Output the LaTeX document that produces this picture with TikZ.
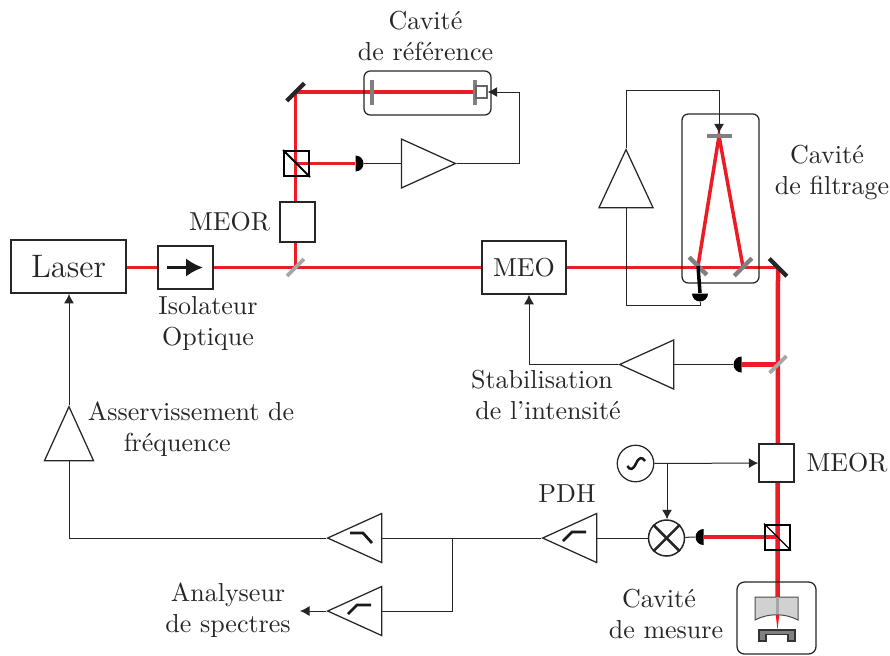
\documentclass[tikz,border=0pt]{standalone}
\usepackage{amsmath,amssymb}
\usepackage{tikz}
\usetikzlibrary{arrows.meta,positioning,shapes.geometric,backgrounds}
\definecolor{beamred}{HTML}{ED1C24}

\begin{document}
\begin{tikzpicture}[x=.4pt,y=-.4pt, every node/.style={font=\fontsize{10.4}{12.4}\selectfont,text=black!85,inner sep=0pt},
box/.style={draw=black!85,line width=.6pt,fill=white,align=center},
txt/.style={align=center},
cube/.style={draw=black,line width=.8pt,minimum size=10pt},
mirror/.style={fill=black!85,minimum width=10pt,minimum height=1.7pt},
gmirror/.style={mirror,fill=black!50},
split/.style={mirror,fill=black!35,minimum width=9.5pt,minimum height=1.5pt},
amp/.style={draw=black!85,line width=.5pt,fill=white,isosceles triangle,isosceles triangle stretches,minimum width=19.6pt,minimum height=21.6pt},
diode/.style={semicircle,fill=black,minimum size=3.2pt},
cav/.style={draw=black!85,line width=.5pt,rounded corners=2.5pt},
beam/.style={beamred,line width=1.4pt},
wire/.style={draw=black!85,line width=.4pt},
arr/.style={wire,-{Latex[length=3.8pt,width=4pt]}},
filt/.style={draw=black!90,line width=1.1pt}]
\useasboundingbox (0,0) rectangle (890,655);
% optical parts
\node[box,line width=.7pt,minimum width=46pt,minimum height=21.2pt,font=\fontsize{13}{15}\selectfont] (laser) at (68.5,266.5) {Laser};
\node[box,minimum width=22pt,minimum height=17.2pt] (iso) at (185.5,267.5) {};
\node[split,rotate=45] (splitm) at (295.5,267.5) {};
\node[box,minimum width=14pt,minimum height=16pt] (meorref) at (297.5,222) {};
\node[cube] (cuberef) at (296.5,163.5) {};
\node[mirror,rotate=45] (mirref) at (295.5,92) {};
\node[box,minimum width=33.6pt,minimum height=21.2pt] (meo) at (524,267.5) {MEO};
\node[gmirror,rotate=90] (cavin) at (372,92) {};
\node[gmirror,rotate=90] (cavout) at (475,92) {};
\node[draw=black!60,line width=.5pt,minimum width=4.4pt,minimum height=4.8pt] (piezo) at (481.5,92) {};
\node[cav,minimum width=50.8pt,minimum height=17.6pt] (cavref) at (427.5,93) {};
\node[cav,minimum width=30.8pt,minimum height=67.6pt] (cavfil) at (720.5,198.5) {};
\node[gmirror] (mirtop) at (719,136) {};
\node[gmirror,rotate=-45] (mirl) at (698,266) {};
\node[gmirror,rotate=45] (mirr) at (743,267) {};
\node[mirror,rotate=-45] (mirout) at (778,267.5) {};
\node[split,rotate=45] (splitout) at (778,364.5) {};
\node[box,minimum width=14pt,minimum height=15.2pt] (meormes) at (776.5,463) {};
\node[cube] (cubemes) at (777.5,537) {};
\node[cav,rounded corners=3pt,minimum width=31.6pt,minimum height=28.8pt] (cavmes) at (776.5,618) {};
\coordinate (spot) at (777.5,597);
% photodiodes
\node[diode,shape border rotate=270,anchor=chord center] (dioderef) at (355,163.5) {};
\node[diode,shape border rotate=180,anchor=chord center] (diodefil) at (700,293) {};
\node[diode,shape border rotate=90,anchor=chord center] (diodeint) at (742,364.5) {};
\node[diode,shape border rotate=90,anchor=chord center] (diodemes) at (704,537) {};
% amplifiers
\node[amp,anchor=apex] (ampref) at (457,163.5) {};
\node[amp,shape border rotate=90,anchor=apex,minimum width=21.6pt,minimum height=23.2pt] (ampfil) at (626,148) {};
\node[amp,shape border rotate=180,anchor=apex] (ampint) at (618,364.5) {};
\node[amp,shape border rotate=90,anchor=apex] (ampfreq) at (69,405) {};
\node[amp,shape border rotate=180,anchor=apex] (amppdh) at (541,538) {};
\node[amp,shape border rotate=180,anchor=apex] (amphi) at (326,538) {};
\node[amp,shape border rotate=180,anchor=apex] (amplo) at (326,611) {};
% electronics
\node[draw=black!85,line width=.5pt,circle,minimum size=14.6pt] (osc) at (635.5,463.5) {};
\node[draw=black!85,line width=.6pt,fill=white,circle,minimum size=14.4pt] (mix) at (666.5,538) {};
\coordinate (fbref) at (519,92);
\coordinate (fbfil) at (626,305);
\coordinate (fbtop) at (719,90);
\coordinate (fbint) at (529,364.5);
\coordinate (fbfreq) at (69,538);
\coordinate (tee) at (452,538);
\coordinate (teelo) at (452,611);
\coordinate (teeosc) at (667,463.5);
\coordinate (spec) at (300,611);
% beams
\begin{scope}[on background layer]
\draw[beam] (laser.center |- iso)--(mirout.center)--(splitout.center);
\draw[beam] (mirl.center)--(mirtop.center)--(mirr.center);
\draw[beam] (splitm.center)--(mirref.center)--(cavout.center);
\draw[beam] (cuberef.center)--(dioderef.chord center);
\draw[beam,line width=1.8pt] (mirout.center)--(spot);
\draw[beam,line width=1.7pt] (splitout.center)--(diodeint.chord center);
\draw[beam,line width=1.7pt] (cubemes.center)--(diodemes.chord center);
\end{scope}
\draw[line width=1.4pt,black] (mirl.center)--(diodefil.chord center);
\draw[cube] (cuberef.north west)--(cuberef.south east);
\draw[line width=.5pt,black] (cubemes.north west)--(cubemes.south east);
% measuring cavity
\fill[beamred] (775.5,613)--(779.5,613)--(777.5,630)--cycle;
\draw[draw=black!70,line width=.4pt,fill=black!18] (755,597)--(798,597)--(798,620) .. controls (785,613) and (768,613) .. (755,620)--cycle;
\draw[black!35,line width=1.4pt] (spot)--(777.5,614);
\draw[draw=black!80,line width=.5pt,fill=black!50] (759,641)--(759,630)--(795,630)--(795,641)--(788,641)--(788,634.5)--(766,634.5)--(766,641)--cycle;
% isolator arrow
\draw[line width=1.3pt,black!90,-{Latex[length=6.8pt,width=7.4pt]}] (167,267.5)--(203,267.5);
% wires
\draw[wire] (dioderef.apex)--(ampref.lower side);
\draw[arr] (ampref.apex)-|(fbref)--(piezo.east);
\draw[wire] (diodefil.apex)|-(fbfil)--(ampfil.lower side);
\draw[arr] (ampfil.apex)|-(fbtop)--(mirtop.north);
\draw[wire] (diodeint.apex)--(ampint.lower side);
\draw[arr] (ampint.apex)-|(meo.south -| fbint);
\draw[arr] (ampfreq.apex)--(laser.south -| ampfreq.apex);
\draw[wire] (ampfreq.lower side)--(fbfreq)--(amphi.apex);
\draw[wire] (amphi.lower side)--(amppdh.apex);
\draw[wire] (tee)--(teelo)--(amplo.lower side);
\draw[arr] (amplo.apex)--(spec);
\draw[wire] (amppdh.lower side)--(mix);
\draw[wire] (mix)--(diodemes.apex);
\draw[arr] (osc)--(meormes);
\draw[arr] (teeosc)--(mix.north -| teeosc);
\draw[line width=1pt,black!85] (mix.north west)--(mix.south east);
\draw[line width=1pt,black!85] (mix.north east)--(mix.south west);
\draw[line width=1pt,black!90] (627.3,466) .. controls (630,470.5) and (633,470) .. (636,463.5) .. controls (639,457) and (642,456.5) .. (645,461);
% filter symbols
\draw[filt] (563,541)--(572,532)--(586,532);
\draw[filt] (350,533)--(363,533)--(372,543);
\draw[filt] (348,614)--(357,605)--(371,605);
% labels
\node[txt] (lblref) at (425.5,36) {Cavité\\de référence};
\node[txt] (lblfil) at (832,173) {Cavité\hspace*{4pt}\\de filtrage};
\node[txt,left=3.5pt of meorref] (lblmeor) {MEOR};
\node[txt,right=4.5pt of meormes] (lblmes) {MEOR};
\node[txt] (lbliso) at (208,323) {Isolateur\\Optique};
\node[txt] (lblint) at (542,395) {Stabilisation\\\hspace*{4.8pt}de l'intensité};
\node[txt] (lblfreq) at (191,429) {Asservissement de\\fréquence\hspace*{11pt}};
\node[txt] (lblpdh) at (567,494) {PDH};
\node[txt] (lblspec) at (228,610) {Analyseur\\de spectres};
\node[txt] (lblcav) at (666,614) {Cavité\hspace*{5.6pt}\\de mesure};
\end{tikzpicture}
\end{document}
